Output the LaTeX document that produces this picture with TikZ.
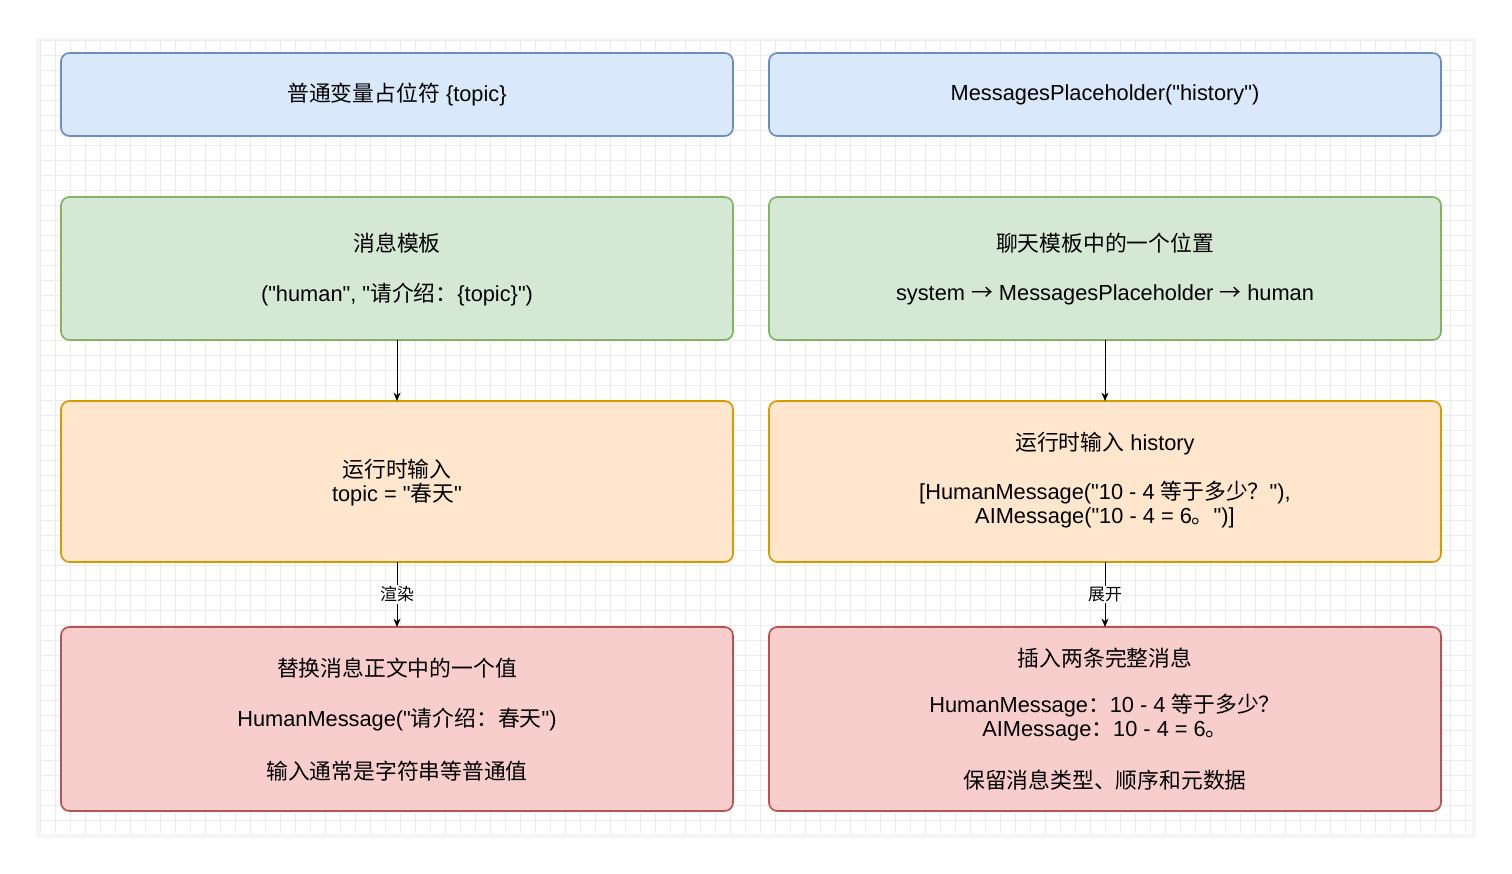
\documentclass[tikz,border=0pt]{standalone}
\usepackage{fontspec}
\setmainfont{Liberation Sans}[Ligatures=ResetAll]
\newfontfamily\cjk{Noto Sans CJK SC}
\usetikzlibrary{arrows.meta}
\definecolor{bluefill}{HTML}{DAE8FC}\definecolor{bluedraw}{HTML}{6C8EBF}
\definecolor{greenfill}{HTML}{D5E8D4}\definecolor{greendraw}{HTML}{82B366}
\definecolor{orangefill}{HTML}{FFE6CC}\definecolor{orangedraw}{HTML}{D79B00}
\definecolor{redfill}{HTML}{F8CECC}\definecolor{reddraw}{HTML}{B85450}
\newcommand{\zh}[1]{{\cjk #1}}
\newcommand{\q}{\textquotedbl}
\tikzset{
  box/.style={draw=#1draw, fill=#1fill, line width=1.2pt, rounded corners=6pt},
  txt/.style={font=\fontsize{15.5}{18}\selectfont, inner sep=0pt},
  lbl/.style={font=\fontsize{12}{14}\selectfont, fill=white, inner sep=1pt},
  flow/.style={-{Stealth[length=6pt,width=5pt]}, line width=0.6pt}
}
\begin{document}
\begin{tikzpicture}[x=0.025cm,y=-0.025cm]
    \useasboundingbox (0,0) rectangle (1512,874);
    % canvas
    \fill[black!4] (36,38) rectangle (1476,838);
    \fill[white] (40,40) rectangle (1472,834);
    \foreach \gx in {40,55,...,1472} \draw[black!8, line width=0.3pt] (\gx,40) -- (\gx,834);
    \foreach \gy in {40,55,...,834} \draw[black!8, line width=0.3pt] (40,\gy) -- (1472,\gy);

    % boxes
    \foreach \x/\n in {61/L,769/R} {
        \draw[box=blue] (\x,53) rectangle ++(672,83);
        \draw[box=green] (\x,197) rectangle ++(672,143);
        \draw[box=orange] (\x,401) rectangle ++(672,161);
        \draw[box=red] (\x,627) rectangle ++(672,184);
    }

    % left column
    \node[txt] (topL) at (397,95) {\zh{普通变量占位符} \{topic\}};
    \node[txt] (tmplA) at (397,243) {\zh{消息模板}};
    \node[txt] (tmplB) at (397,295) {(\q human\q, \q\zh{请介绍：}\{topic\}\q)};
    \node[txt] (inA) at (397,469) {\zh{运行时输入}};
    \node[txt] (inB) at (397,495) {topic = \q\zh{春天}\q};
    \node[txt] (outA) at (397,668) {\zh{替换消息正文中的一个值}};
    \node[txt] (outB) at (397,720) {HumanMessage(\q\zh{请介绍：春天}\q)};
    \node[txt] (outC) at (397,771) {\zh{输入通常是字符串等普通值}};

    % right column
    \node[txt] (topR) at (1105,95) {MessagesPlaceholder(\q history\q)};
    \node[txt] (chatA) at (1105,243) {\zh{聊天模板中的一个位置}};
    \node[txt] (chatB) at (1105,295) {system \zh{→} MessagesPlaceholder \zh{→} human};
    \node[txt] (histA) at (1105,444) {\zh{运行时输入} history};
    \node[txt] (histB) at (1105,493) {[HumanMessage(\q 10 - 4 \zh{等于多少？}\q),};
    \node[txt] (histC) at (1105,518) {AIMessage(\q 10 - 4 = 6\zh{。}\q)]};
    \node[txt] (insA) at (1105,658) {\zh{插入两条完整消息}};
    \node[txt] (insB) at (1105,706) {HumanMessage\zh{：}10 - 4 \zh{等于多少？}};
    \node[txt] (insC) at (1105,731) {AIMessage\zh{：}10 - 4 = 6\zh{。}};
    \node[txt] (insD) at (1105,780) {\zh{保留消息类型、顺序和元数据}};

    % connectors
    \coordinate (gL) at (397,340); \coordinate (oL) at (397,401);
    \coordinate (oL2) at (397,562); \coordinate (rL) at (397,627);
    \coordinate (gR) at (1105,340); \coordinate (oR) at (1105,401);
    \coordinate (oR2) at (1105,562); \coordinate (rR) at (1105,627);
    \draw[flow] (gL) -- (oL);
    \draw[flow] (gR) -- (oR);
    \draw[flow] (oL2) -- node[lbl] {\zh{渲染}} (rL);
    \draw[flow] (oR2) -- node[lbl] {\zh{展开}} (rR);
\end{tikzpicture}
\end{document}
